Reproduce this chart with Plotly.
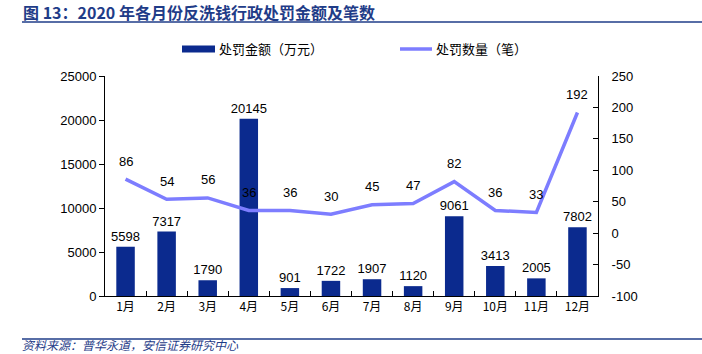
import plotly.graph_objects as go

months = ["1月", "2月", "3月", "4月", "5月", "6月", "7月", "8月", "9月", "10月", "11月", "12月"]
amounts = [5598, 7317, 1790, 20145, 901, 1722, 1907, 1120, 9061, 3413, 2005, 7802]
counts = [86, 54, 56, 36, 36, 30, 45, 47, 82, 36, 33, 192]
left_ticks = [0, 5000, 10000, 15000, 20000, 25000]
right_ticks = [-100, -50, 0, 50, 100, 150, 200, 250]

bar_color = "#0B2A8E"
line_color = "#7D7DFF"
num_font = "Liberation Sans, Arial, sans-serif"
cjk_font = "Noto Sans CJK SC, sans-serif"

fig = go.Figure()
fig.add_trace(go.Bar(
    x=months, y=amounts, name="处罚金额（万元）",
    marker=dict(color=bar_color, line=dict(width=0)),
    width=0.45,
    text=[str(v) for v in amounts], textposition="outside", constraintext="none",
    textfont=dict(family=num_font, size=13, color="#000000"),
    cliponaxis=False, showlegend=False,
))
fig.add_trace(go.Scatter(
    x=months, y=counts, name="处罚数量（笔）", yaxis="y2",
    mode="lines", line=dict(color=line_color, width=3.5),
    showlegend=False,
))
for m, c in zip(months, counts):
    fig.add_annotation(x=m, y=c, xref="x", yref="y2", text=str(c),
                       showarrow=False, yshift=18,
                       font=dict(family=num_font, size=13, color="#000000"))

L, R, T, B = 105, 598, 76, 296
W, H = R - L, B - T
def px(x):
    return (x - L) / W
def py(y):
    return (B - y) / H

shapes = [
    dict(type="line", xref="paper", yref="paper", x0=px(22), x1=px(702), y0=py(22), y1=py(22),
         line=dict(color="#1F3C88", width=1.5)),
    dict(type="line", xref="paper", yref="paper", x0=px(22), x1=px(702), y0=py(339), y1=py(339),
         line=dict(color="#1F3C88", width=1.5)),
    dict(type="rect", xref="paper", yref="paper", x0=px(182), x1=px(215), y0=py(52.5), y1=py(45.5),
         fillcolor=bar_color, line=dict(width=0)),
    dict(type="line", xref="paper", yref="paper", x0=px(400), x1=px(432), y0=py(49), y1=py(49),
         line=dict(color=line_color, width=3.5)),
]
annotations_extra = [
    dict(xref="paper", yref="paper", x=px(217), y=py(49), xanchor="left", yanchor="middle",
         text="处罚金额（万元）", showarrow=False, font=dict(family=cjk_font, size=13, color="#000000")),
    dict(xref="paper", yref="paper", x=px(434), y=py(49), xanchor="left", yanchor="middle",
         text="处罚数量（笔）", showarrow=False, font=dict(family=cjk_font, size=13, color="#000000")),
    dict(xref="paper", yref="paper", x=px(21), y=py(12), xanchor="left", yanchor="middle",
         text="<b>图 13：2020 年各月份反洗钱行政处罚金额及笔数</b>", showarrow=False,
         font=dict(family=cjk_font, size=16, color="#1F3C88")),
    dict(xref="paper", yref="paper", x=px(21), y=py(344), xanchor="left", yanchor="middle",
         text="<i>资料来源：普华永道，安信证券研究中心</i>", showarrow=False, borderpad=0,
         font=dict(family=cjk_font, size=12, color="#1F3C88")),
]
for a in annotations_extra:
    fig.add_annotation(**a)

fig.update_layout(
    width=702, height=354,
    margin=dict(l=L, r=702 - R, t=T, b=354 - B, pad=0),
    plot_bgcolor="white", paper_bgcolor="white",
    shapes=shapes,
    xaxis=dict(type="category", showline=True, linecolor="#000000", linewidth=1,
               ticks="inside", tickson="boundaries", ticklen=5, tickcolor="#000000",
               tickfont=dict(family=cjk_font, size=12, color="#000000"), showgrid=False),
    yaxis=dict(range=[0, 25000], tickmode="array", tickvals=left_ticks,
               ticktext=[str(v) for v in left_ticks],
               showline=True, linecolor="#000000", linewidth=1,
               ticks="outside", ticklen=5, tickcolor="#000000", showgrid=False, zeroline=False,
               tickfont=dict(family=num_font, size=13, color="#000000")),
    yaxis2=dict(range=[-100, 250], tickmode="array", tickvals=right_ticks,
                ticktext=[str(v) for v in right_ticks],
                overlaying="y", side="right", showline=True,
                linecolor="#000000", linewidth=1, ticks="inside", ticklen=5, tickcolor="#000000",
                showgrid=False, zeroline=False, ticklabelstandoff=10,
                tickfont=dict(family=num_font, size=13, color="#000000")),
    showlegend=False,
)

fig.write_html("out.html")
